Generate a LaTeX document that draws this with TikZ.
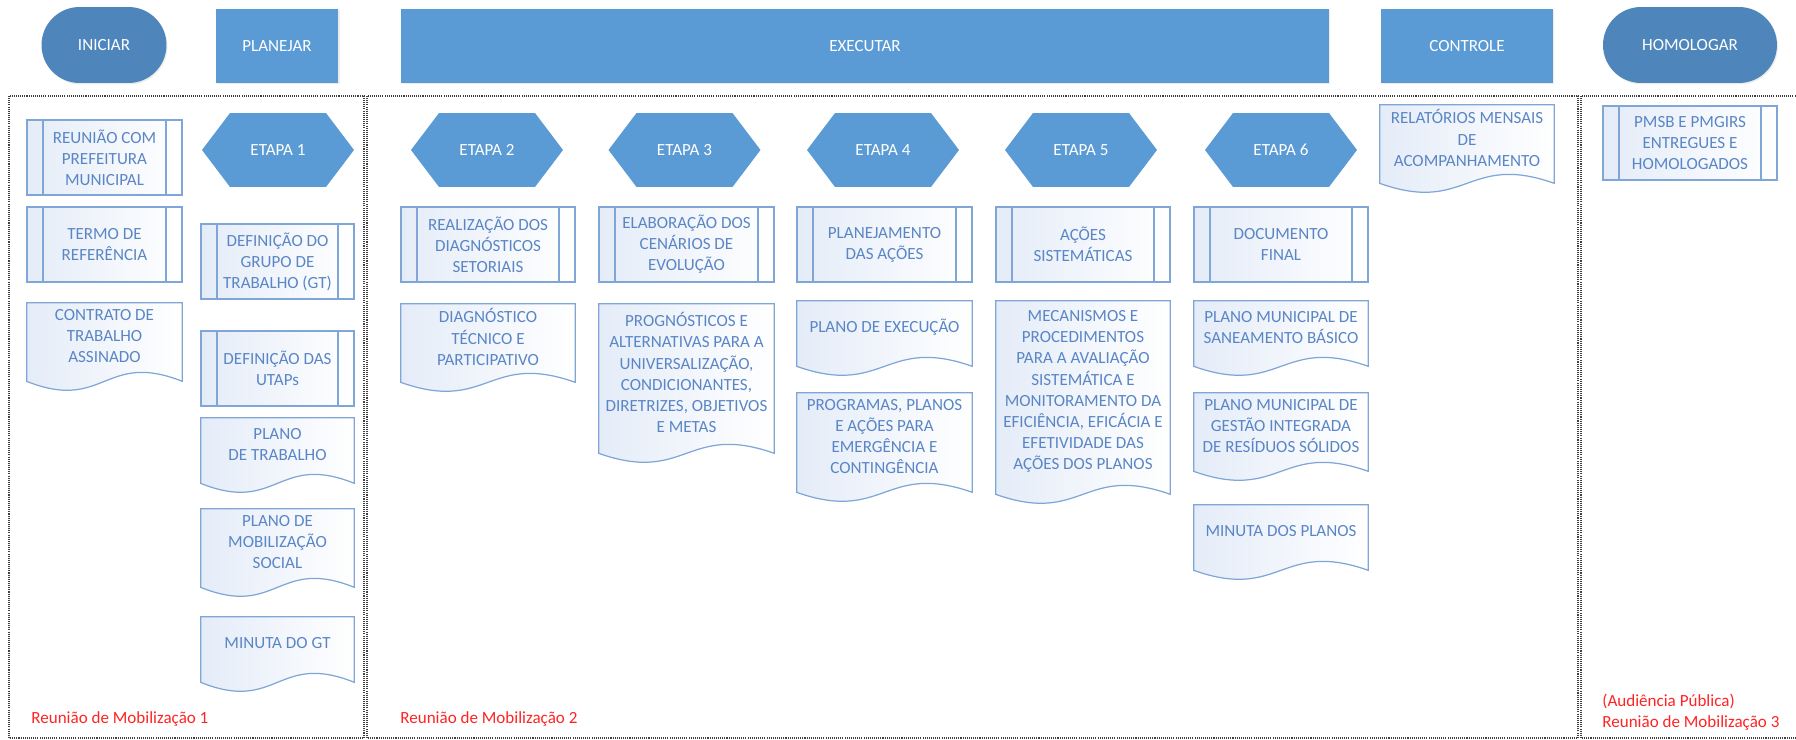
\documentclass[tikz,border=0pt]{standalone}
\usepackage{fontspec}
\setmainfont{Carlito}
\usetikzlibrary{shadows,calc,backgrounds}
\definecolor{stepblue}{RGB}{91,155,213}
\definecolor{endblue}{RGB}{78,134,188}
\definecolor{boxline}{RGB}{128,166,216}
\definecolor{boxtext}{RGB}{90,134,198}
\definecolor{boxshade}{RGB}{228,236,248}
\definecolor{meetred}{RGB}{255,35,35}
\tikzset{
  phasebox/.style={fill=stepblue, text=white, inner sep=0pt, minimum height=1.48cm,
    drop shadow={opacity=0.15, shadow xshift=0.6pt, shadow yshift=-0.8pt}},
  endphase/.style={phasebox, fill=endblue, rounded corners=0.76cm, minimum height=1.52cm},
  etapa/.style={fill=white, text=white, inner sep=0pt, minimum width=3.04cm, minimum height=1.48cm,
    path picture={\fill[stepblue]
      ([xshift=0.56cm]path picture bounding box.north west) -- ([xshift=-0.56cm]path picture bounding box.north east)
      -- (path picture bounding box.east) -- ([xshift=-0.56cm]path picture bounding box.south east)
      -- ([xshift=0.56cm]path picture bounding box.south west) -- (path picture bounding box.west) -- cycle;}},
  procbox/.style={draw=boxline, line width=0.7pt, left color=boxshade, right color=white,
    text=boxtext, align=center, inner sep=0pt, minimum width=3.48cm, minimum height=1.5cm,
    path picture={\draw[boxline, line width=0.7pt]
      ([xshift=0.32cm]path picture bounding box.north west) -- ([xshift=0.32cm]path picture bounding box.south west)
      ([xshift=-0.32cm]path picture bounding box.north east) -- ([xshift=-0.32cm]path picture bounding box.south east);}},
  docbox/.style={text=boxtext, align=center, inner sep=0pt, minimum width=3.48cm},
  docline/.style={draw=boxline, line width=0.7pt, left color=boxshade, right color=white},
  zone/.style={draw=black!75, dash pattern=on 0.6pt off 0.6pt, line width=0.6pt},
  meeting/.style={text=meetred, anchor=west, align=left, inner sep=0pt},
}
\begin{document}
\begin{tikzpicture}[x=0.02cm, y=-0.02cm, every node/.style={font=\fontsize{9.7}{12}\selectfont}]
    \useasboundingbox (0,0) rectangle (1796,740);
    % fases
    \node[endphase, minimum width=2.5cm](iniciar)at(104,45){INICIAR};
    \node[phasebox, minimum width=2.46cm](planejar)at(277,46){PLANEJAR};
    \node[phasebox, minimum width=18.56cm](executar)at(865,46){EXECUTAR};
    \node[phasebox, minimum width=3.44cm](controle)at(1467,46){CONTROLE};
    \node[endphase, minimum width=3.48cm](homologar)at(1690,45){HOMOLOGAR};
    % areas
    \draw[zone](9,96)rectangle(364,738);
    \draw[zone](367,96)rectangle(1578,738);
    \draw[zone](1581,96)rectangle(1800,738);
    % iniciar
    \node[procbox, minimum width=3.1cm](reuniao)at(104.5,157.5){REUNIÃO COM\\PREFEITURA\\MUNICIPAL};
    \node[procbox, minimum width=3.1cm](termo)at(104.5,244.5){TERMO DE\\REFERÊNCIA};
    \node[docbox, minimum width=3.1cm, minimum height=1.32cm](contrato)at(104.5,336){CONTRATO DE\\TRABALHO\\ASSINADO};
    % etapa 1
    \node[etapa](etapa1)at(278,150){ETAPA 1};
    \node[procbox, minimum width=3.06cm](defgt)at(277.5,261.5){DEFINIÇÃO DO\\GRUPO DE\\TRABALHO (GT)};
    \node[procbox, minimum width=3.06cm](utaps)at(277.5,368.5){DEFINIÇÃO DAS\\UTAPs};
    \node[docbox, minimum width=3.06cm, minimum height=1.06cm](planotrab)at(277.5,444.5){PLANO\\DE TRABALHO};
    \node[docbox, minimum width=3.06cm, minimum height=1.32cm](mobsoc)at(277.5,542){PLANO DE\\MOBILIZAÇÃO\\SOCIAL};
    \node[docbox, minimum width=3.06cm, minimum height=1.06cm](minutagt)at(277.5,643.5){MINUTA DO GT};
    % etapa 2
    \node[etapa](etapa2)at(487,150){ETAPA 2};
    \node[procbox](realiz)at(488,244.5){REALIZAÇÃO DOS\\DIAGNÓSTICOS\\SETORIAIS};
    \node[docbox, minimum height=1.32cm](diag)at(488,337){DIAGNÓSTICO\\TÉCNICO E\\PARTICIPATIVO};
    % etapa 3
    \node[etapa](etapa3)at(684.5,150){ETAPA 3};
    \node[procbox, minimum width=3.5cm](elab)at(686.5,244.5){ELABORAÇÃO DOS\\CENÁRIOS DE\\EVOLUÇÃO};
    \node[docbox, minimum width=3.5cm, minimum height=2.74cm](progn)at(686.5,372.5){PROGNÓSTICOS E\\ALTERNATIVAS PARA A\\UNIVERSALIZAÇÃO,\\CONDICIONANTES,\\DIRETRIZES, OBJETIVOS\\E METAS};
    % etapa 4
    \node[etapa](etapa4)at(883,150){ETAPA 4};
    \node[procbox, minimum width=3.5cm](planej)at(884.5,244.5){PLANEJAMENTO\\DAS AÇÕES};
    \node[docbox, minimum width=3.5cm, minimum height=1.06cm](planoexec)at(884.5,327.5){PLANO DE EXECUÇÃO};
    \node[docbox, minimum width=3.5cm, minimum height=1.74cm](programas)at(884.5,436.5){PROGRAMAS, PLANOS\\E AÇÕES PARA\\EMERGÊNCIA E\\CONTINGÊNCIA};
    % etapa 5
    \node[etapa](etapa5)at(1081,150){ETAPA 5};
    \node[procbox](acoes)at(1083,244.5){AÇÕES\\SISTEMÁTICAS};
    \node[docbox, minimum height=3.62cm](mecan)at(1083,391.5){MECANISMOS E\\PROCEDIMENTOS\\PARA A AVALIAÇÃO\\SISTEMÁTICA E\\MONITORAMENTO DA\\EFICIÊNCIA, EFICÁCIA E\\EFETIVIDADE DAS\\AÇÕES DOS PLANOS};
    % etapa 6
    \node[etapa](etapa6)at(1281,150){ETAPA 6};
    \node[procbox](docfinal)at(1281,244.5){DOCUMENTO\\FINAL};
    \node[docbox, minimum height=1.06cm](pmsb)at(1281,327.5){PLANO MUNICIPAL DE\\SANEAMENTO BÁSICO};
    \node[docbox, minimum height=1.32cm](pmgirs)at(1281,426){PLANO MUNICIPAL DE\\GESTÃO INTEGRADA\\DE RESÍDUOS SÓLIDOS};
    \node[docbox, minimum height=1.06cm](minutaplanos)at(1281,531.5){MINUTA DOS PLANOS};
    % controle e homologar
    \node[docbox, minimum height=1.32cm](relat)at(1467,138){RELATÓRIOS MENSAIS\\DE\\ACOMPANHAMENTO};
    \node[procbox, minimum height=1.48cm](entregues)at(1690,143){PMSB E PMGIRS\\ENTREGUES E\\HOMOLOGADOS};
    % reunioes
    \node[meeting](mob1)at(31,719){Reunião de Mobilização 1};
    \node[meeting](mob2)at(400,719){Reunião de Mobilização 2};
    \node[meeting](mob3)at(1602,712){(Audiência Pública)\\Reunião de Mobilização 3};
    % contorno dos documentos
    \begin{scope}[on background layer]
        \foreach \d in {contrato,planotrab,mobsoc,minutagt,diag,progn,planoexec,programas,mecan,pmsb,pmgirs,minutaplanos,relat}
            \draw[docline](\d.north west)--(\d.north east)--($(\d.south east)+(0,12)$)
                ..controls($(\d.south)+(0,-19)$)and($(\d.south)+(0,43)$)..($(\d.south west)+(0,12)$)--cycle;
    \end{scope}
\end{tikzpicture}
\end{document}
